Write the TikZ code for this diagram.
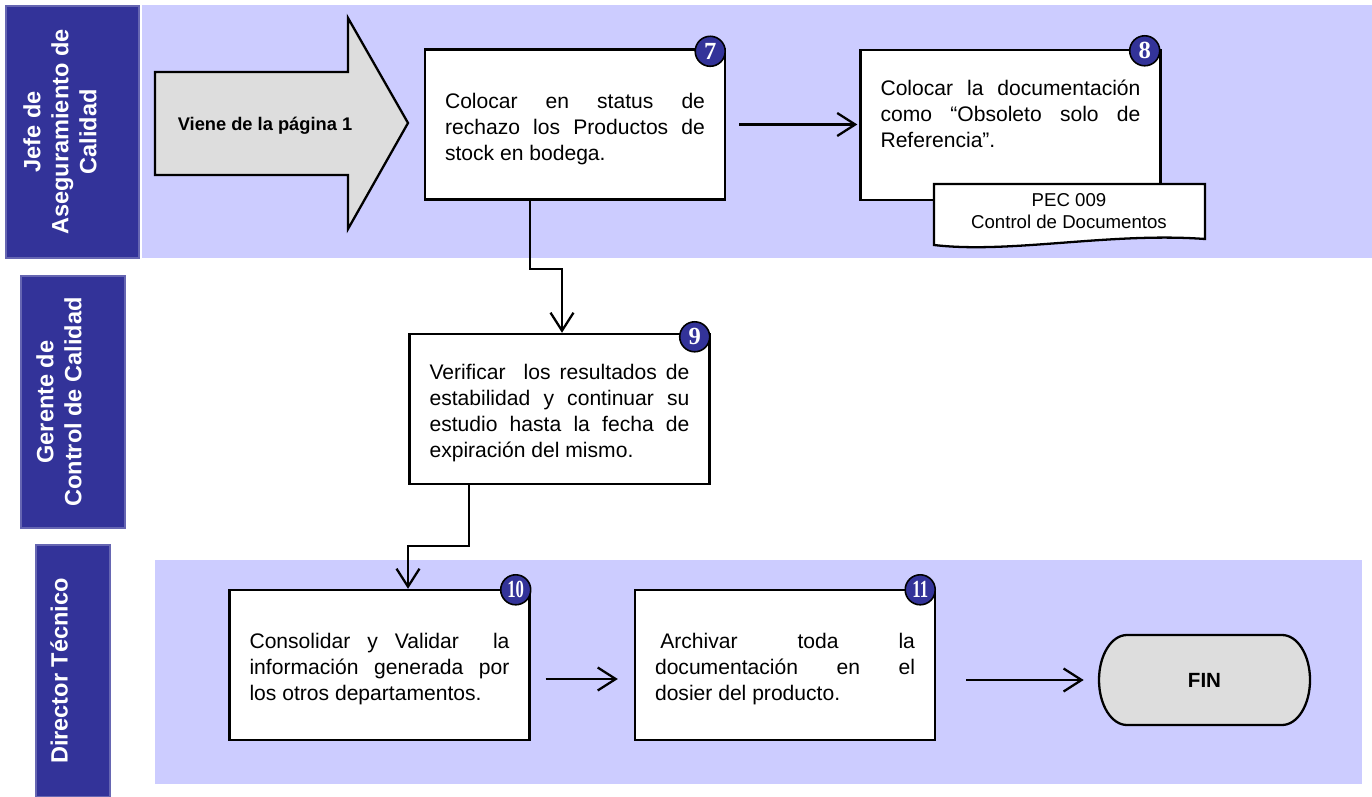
\documentclass[tikz,border=0pt]{standalone}
\usepackage{fontspec}
\setmainfont{Liberation Sans}
\newfontfamily\numfont{Liberation Serif}
\usetikzlibrary{arrows.meta,calc}
\definecolor{lanehead}{HTML}{333399}
\definecolor{laneback}{HTML}{CCCCFF}
\definecolor{shapegray}{HTML}{DDDDDD}
\tolerance=10000
\hyphenpenalty=10000

\tikzset{
  lanehdr/.style={fill=lanehead, draw=lanehead!75!white, line width=0.6pt},
  lanebg/.style={fill=laneback, draw=none},
  hdrtext/.style={text=white, font=\fontsize{13.4pt}{15.9pt}\selectfont\bfseries,
    rotate=90, align=center, inner sep=0pt},
  procbox/.style={draw=black, fill=white, line width=1.4pt, minimum width=6cm,
    minimum height=3cm, text width=5.2cm, align=justify, inner sep=0pt,
    font=\fontsize{12pt}{14.8pt}\selectfont,
    execute at begin node={\rule{0pt}{13.5pt}}},
  plaintext/.style={text width=5.2cm, align=justify, inner sep=0pt,
    font=\fontsize{12pt}{14.8pt}\selectfont},
  flow/.style={line width=1.3pt,
    -{Straight Barb[length=0.36cm,width=0.46cm,line width=1.3pt]}},
  badge/.style={circle, fill=lanehead, draw=black, line width=0.9pt,
    minimum size=0.6cm, inner sep=0pt, text=white,
    font=\numfont\bfseries\fontsize{14pt}{14pt}\selectfont},
  shapeline/.style={draw=black, line width=1.3pt, fill=shapegray},
}

\begin{document}
\begin{tikzpicture}[x=0.02cm, y=-0.02cm]
  \useasboundingbox (0,0) rectangle (1372,797);
  \fill[white] (0,0) rectangle (1372,797);

  % swimlane backgrounds and headers
  \fill[lanebg] (142,5) rectangle (1372,258);
  \fill[lanebg] (155,560) rectangle (1362,784);
  \draw[lanehdr] (6,6) rectangle (139,258);
  \draw[lanehdr] (21,276) rectangle (125,528);
  \draw[lanehdr] (36,545) rectangle (110,797);
  \node[hdrtext] (h1) at (60,132) {Jefe de\\Aseguramiento de\\Calidad};
  \node[hdrtext] (h2) at (59,402) {Gerente de\\Control de Calidad};
  \node[hdrtext] (h3) at (59,671) {Director Técnico};

  % incoming page connector
  \draw[shapeline] (155,72) -- (348,72) -- (348,18) -- (408,123) -- (348,229)
    -- (348,175) -- (155,175) -- cycle;
  \node[font=\fontsize{10.4pt}{12pt}\selectfont\bfseries] (viene) at (265,126)
    {Viene de la página 1};

  % process steps
  \node[procbox] (b7) at (575,124.5)
    {Colocar en status de\linebreak rechazo los Productos de\linebreak stock en bodega.};
  \node[procbox] (b8) at (1010.5,125) {};
  \node[plaintext] (t8) at (1010.5,114)
    {Colocar la documentación\linebreak como “Obsoleto solo de\linebreak Referencia”.};
  \node[procbox] (b9) at (559.5,409)
    {Verificar\ \ los resultados de\linebreak estabilidad y continuar su\linebreak
     estudio hasta la fecha de\linebreak expiración del mismo.};
  \node[procbox] (b10) at (379.5,665)
    {Consolidar y Validar\ \ la\linebreak información generada por\linebreak los otros departamentos.};
  \node[procbox] (b11) at (785,665)
    {\hspace*{3pt}Archivar toda la\linebreak documentación en el\linebreak dosier del producto.};

  % referenced document
  \draw[draw=black, line width=1.3pt, fill=white] (934,184) -- (1205,184) -- (1205,239)
    .. controls (1110,232) and (1010,254) .. (934,245) -- cycle;
  \node[align=center, inner sep=0pt, font=\fontsize{10.6pt}{12.5pt}\selectfont]
    (doc) at (1069,211) {PEC 009\\Control de Documentos};

  % terminator
  \node[minimum width=4.22cm, minimum height=1.8cm, inner sep=0pt] (fin) at (1204.5,680) {};
  \draw[shapeline] (1127,635) -- (1282,635)
    .. controls (1297.5,635) and (1310,655) .. (1310,680)
    .. controls (1310,705) and (1297.5,725) .. (1282,725)
    -- (1127,725)
    .. controls (1111.5,725) and (1099,705) .. (1099,680)
    .. controls (1099,655) and (1111.5,635) .. (1127,635) -- cycle;
  \node[font=\fontsize{11.7pt}{12pt}\selectfont\bfseries] (fintext) at (fin.center) {FIN};

  % step numbers
  \node[badge] (n7) at ($(b7.north east)+(-16,3)$) {7};
  \node[badge] (n8) at ($(b8.north east)+(-17,2)$) {8};
  \node[badge] (n9) at ($(b9.north east)+(-16,4)$) {9};
  \node[badge] (n10) at ($(b10.north east)+(-15,1)$) {\scalebox{0.68}[1]{10}};
  \node[badge] (n11) at ($(b11.north east)+(-16,1)$) {\scalebox{0.68}[1]{11}};

  % flow connectors
  \draw[flow, shorten <=0.26cm, shorten >=0.04cm] (b7.east) -- (b7.east -| b8.west);
  \draw[flow] ($(b7.south)+(-45,0)$) -- ++(0,68) -| ($(b9.north)+(2.5,0)$);
  \draw[flow] ($(b9.south)+(-90.5,0)$) -- ++(0,61) -| ($(b10.north)+(28.5,0)$);
  \draw[flow, shorten <=0.3cm, shorten >=0.32cm] ($(b10.east)+(0,14)$) -- ($(b11.west)+(0,14)$);
  \draw[flow, shorten <=0.6cm, shorten >=0.3cm] (b11.east |- fin.west) -- (fin.west);
\end{tikzpicture}
\end{document}
